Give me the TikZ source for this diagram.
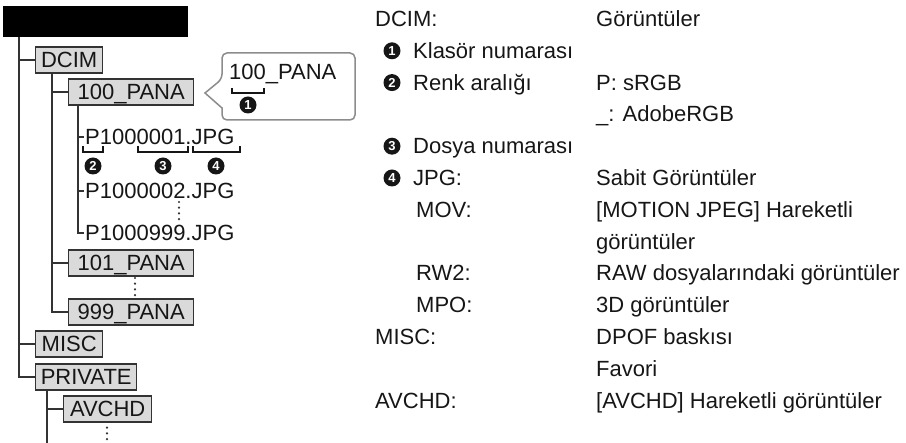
\documentclass[tikz,border=0pt]{standalone}
\usepackage{fontspec}
\setmainfont{Liberation Sans}
\usetikzlibrary{positioning}
\definecolor{boxgray}{HTML}{DADADA}
\definecolor{linegray}{HTML}{333333}
\definecolor{callgray}{HTML}{8C8C8C}
\definecolor{inkblack}{HTML}{161616}

\begin{document}
\begin{tikzpicture}[
    x=1pt, y=-1pt,
    every node/.style={font=\fontsize{22}{26}\selectfont, text=inkblack},
    folder/.style={draw=linegray, line width=1.4pt, fill=boxgray, anchor=west,
        minimum height=26pt, inner sep=0pt, text height=15.8pt, text depth=0pt},
    file/.style={anchor=west, inner sep=1pt, text height=15.8pt, text depth=0pt},
    tree/.style={draw=linegray, line width=1.4pt},
    dots/.style={draw=linegray, line width=2.4pt, dash pattern=on 0pt off 5.7pt, line cap=round},
    brace/.style={draw=inkblack, line width=1.6pt},
    num/.style={circle, fill=inkblack, text=white, inner sep=0pt, minimum size=17pt,
        font=\fontsize{13}{13}\selectfont\bfseries},
    rowtext/.style={anchor=base west, inner sep=0pt}
]
\useasboundingbox (0,0) rectangle (906,443);

% folder tree
\node[fill=black, anchor=north west, minimum width=185pt, minimum height=31pt, inner sep=0pt] (root) at (3,6) {};
\node[folder, minimum width=67pt] (dcim) at (35,60) {DCIM};
\node[folder, minimum width=125pt] (pana100) at (68,92) {100\_PANA};
\node[file] (f1) at (84,137) {P1000001.JPG};
\node[file] (f2) at (84,191) {P1000002.JPG};
\node[file] (f999) at (84,233) {P1000999.JPG};
\node[folder, minimum width=125pt] (pana101) at (68,263) {101\_PANA};
\node[folder, minimum width=125pt] (pana999) at (68,312) {999\_PANA};
\node[folder, minimum width=67pt] (misc) at (35,344) {MISC};
\node[folder, minimum width=101pt] (private) at (35,377) {PRIVATE};
\node[folder, minimum width=88pt] (avchd) at (63,409) {AVCHD};

\coordinate (trunk) at (19,37);
\coordinate (dcim_trunk) at (52,0);
\coordinate (pana_trunk) at (78,0);
\coordinate (private_trunk) at (47,0);
\coordinate (tree_end) at (47,443);
\coordinate (avchd_end) at (107,443);

\draw[tree] (trunk) |- (private.west);
\draw[tree] (trunk |- dcim.west) -- (dcim.west);
\draw[tree] (trunk |- misc.west) -- (misc.west);
\draw[tree] (dcim_trunk |- dcim.south) |- (pana999.west);
\draw[tree] (dcim_trunk |- pana100.west) -- (pana100.west);
\draw[tree] (dcim_trunk |- pana101.west) -- (pana101.west);
\draw[tree] (pana_trunk |- pana100.south) |- (f999.west);
\draw[tree] (pana_trunk |- f1.west) -- (f1.west);
\draw[tree] (pana_trunk |- f2.west) -- (f2.west);
\draw[tree] (private_trunk |- private.south) -- (tree_end);
\draw[tree] (private_trunk |- avchd.west) -- (avchd.west);

\draw[dots] (179,202) -- (179,221);
\draw[dots] (135,278) -- (135,296);
\draw[dots] (avchd.south -| avchd_end) ++(0,5) -- (avchd_end);

% parts of the file name
\draw[brace] (83,146) |- (103,152) -- (103,146);
\draw[brace] (138,146) |- (188,152) -- (188,146);
\draw[brace] (193,146) |- (240,152) -- (240,146);
\node[num] (n2) at (93,166) {2};
\node[num] (n3) at (163,166) {3};
\node[num] (n4) at (216,166) {4};

% callout
\draw[callgray, line width=1.5pt, fill=white] (222,79) -- (205,93) -- (222,108)
    [rounded corners=5pt] -- (222,120) -- (355,120) -- (355,53) -- (222,53) -- cycle;
\node[rowtext] (calltext) at (229,80) {100\_PANA};
\draw[brace] (232,88) |- (264,93) -- (264,88);
\node[num] (n1) at (248,105) {1};

% legend
\node[rowtext] (lab_dcim) at (375,27) {DCIM:};
\node[num] (k1) at (392,50.8) {1};
\node[rowtext] (lab_folder) at (413,59) {Klasör numarası};
\node[num] (k2) at (392,82.6) {2};
\node[rowtext] (lab_color) at (413,90.5) {Renk aralığı};
\node[num] (k3) at (392,146.2) {3};
\node[rowtext] (lab_file) at (413,154) {Dosya numarası};
\node[num] (k4) at (392,178) {4};
\node[rowtext] (lab_jpg) at (413,186) {JPG:};
\node[rowtext] (lab_mov) at (416,218) {MOV:};
\node[rowtext] (lab_rw2) at (416,281) {RW2:};
\node[rowtext] (lab_mpo) at (416,313) {MPO:};
\node[rowtext] (lab_misc) at (375,345) {MISC:};
\node[rowtext] (lab_avchd) at (375,408.5) {AVCHD:};

\node[rowtext] (val_dcim) at (596,27) {Görüntüler};
\node[rowtext] (val_srgb) at (596,90.5) {P: sRGB};
\node[rowtext] (val_adobe) at (596,122) {\_: AdobeRGB};
\node[rowtext] (val_jpg) at (596,186) {Sabit Görüntüler};
\node[rowtext] (val_mov) at (596,218) {[MOTION JPEG] Hareketli};
\node[rowtext] (val_mov2) at (596,249.5) {görüntüler};
\node[rowtext] (val_rw2) at (596,281) {RAW dosyalarındaki görüntüler};
\node[rowtext] (val_mpo) at (596,313) {3D görüntüler};
\node[rowtext] (val_misc) at (596,345) {DPOF baskısı};
\node[rowtext] (val_fav) at (596,377) {Favori};
\node[rowtext] (val_avchd) at (596,408.5) {[AVCHD] Hareketli görüntüler};

\end{tikzpicture}
\end{document}
